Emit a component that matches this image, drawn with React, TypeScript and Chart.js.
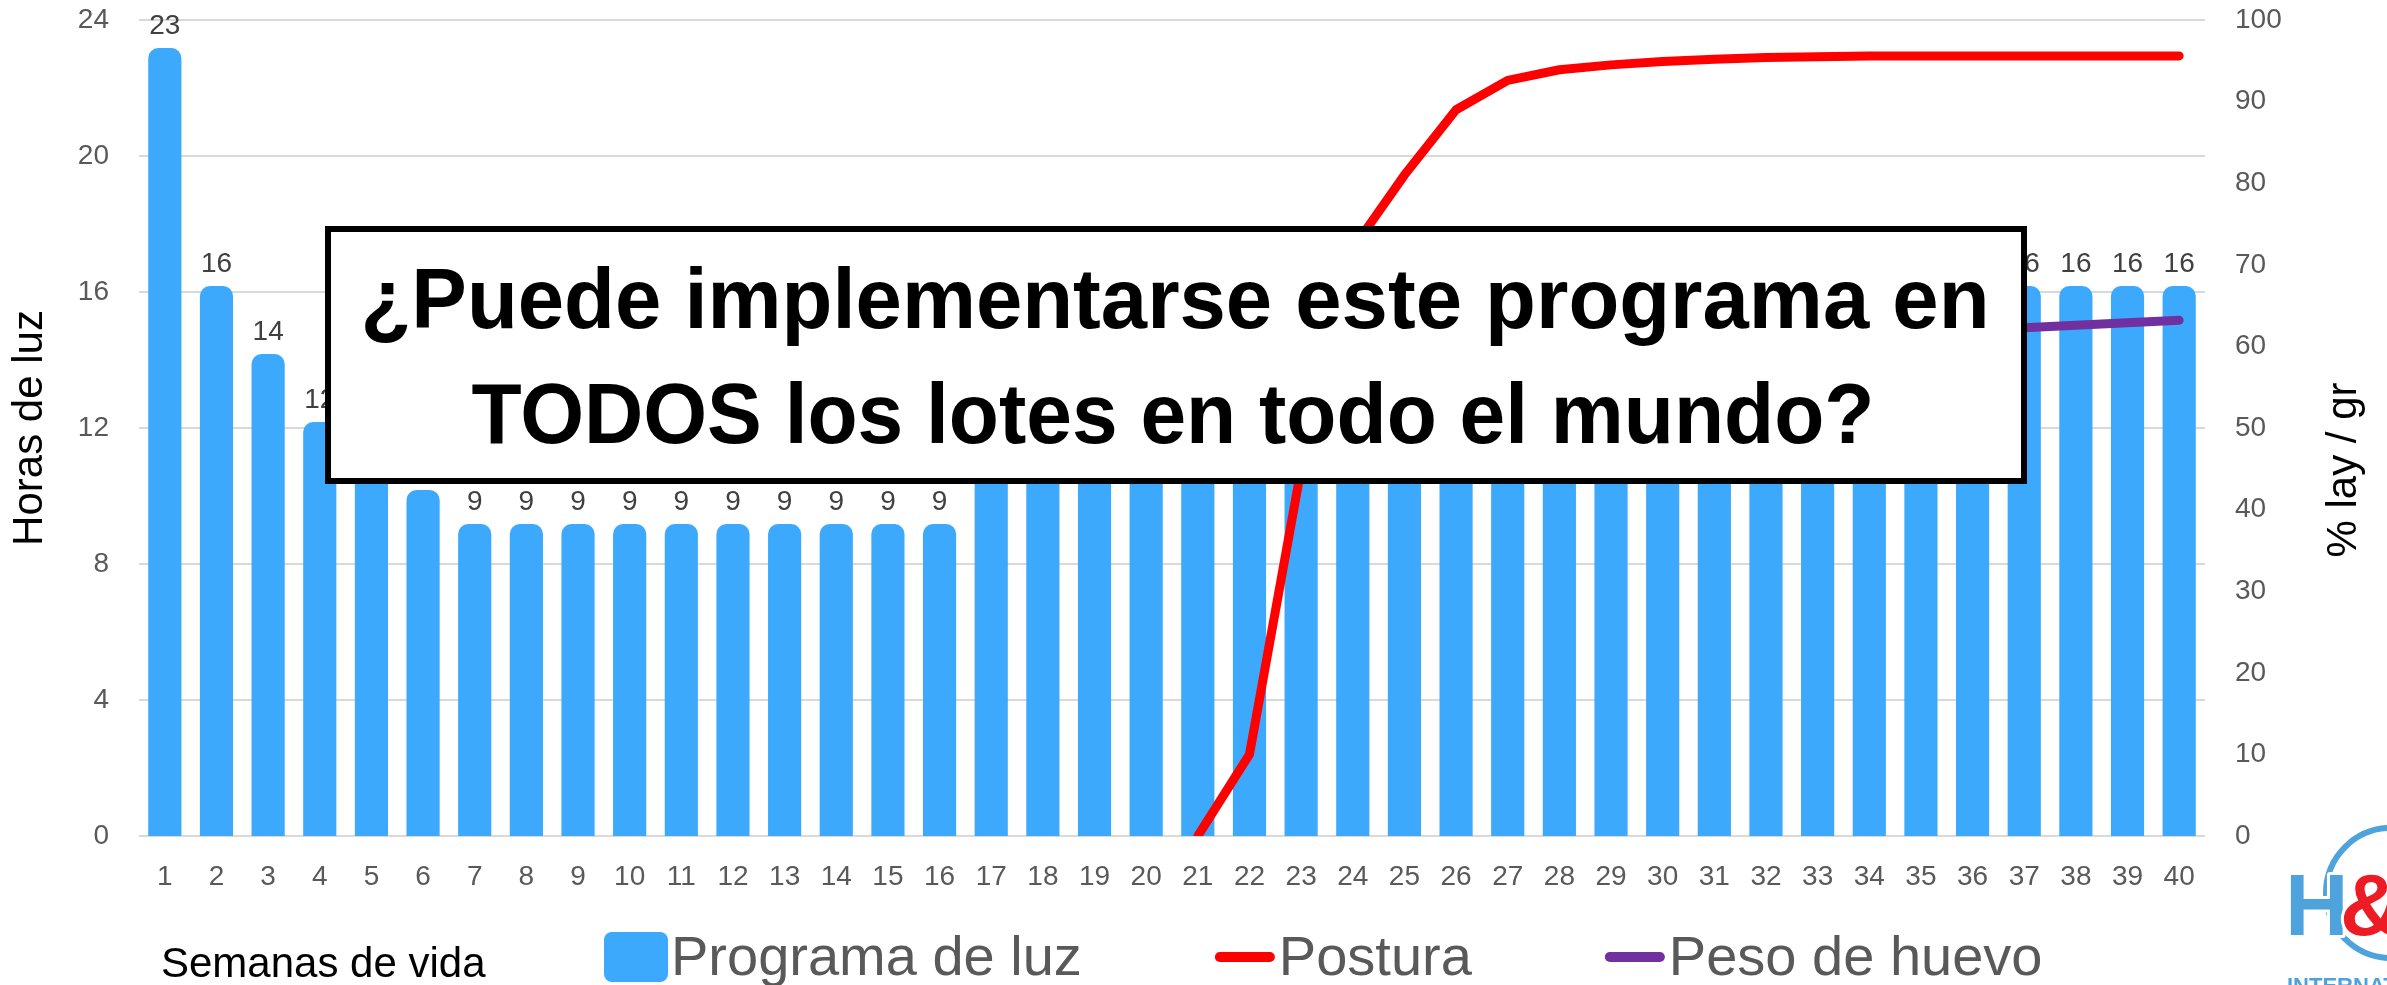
import React, { useEffect, useRef } from "react";
import { Chart, registerables } from "chart.js";

Chart.register(...registerables);

// ---------- data ----------
const semanas = [
  "1", "2", "3", "4", "5", "6", "7", "8", "9", "10",
  "11", "12", "13", "14", "15", "16", "17", "18", "19", "20",
  "21", "22", "23", "24", "25", "26", "27", "28", "29", "30",
  "31", "32", "33", "34", "35", "36", "37", "38", "39", "40",
];

const programaDeLuz = [
  23, 16, 14, 12, 11, 10, 9, 9, 9, 9,
  9, 9, 9, 9, 9, 9, 16, 16, 16, 16,
  16, 16, 16, 16, 16, 16, 16, 16, 16, 16,
  16, 16, 16, 16, 16, 16, 16, 16, 16, 16,
];

const postura = [
  null, null, null, null, null, null, null, null, null, null,
  null, null, null, null, null, null, null, null, null, null,
  0, 10, 45, 72, 81, 89, 92.6, 93.9, 94.5, 94.9,
  95.2, 95.4, 95.5, 95.6, 95.6, 95.6, 95.6, 95.6, 95.6, 95.6,
];

const pesoDeHuevo = [
  null, null, null, null, null, null, null, null, null, null,
  null, null, null, null, null, null, null, null, null, null,
  48.5, 50.5, 52.5, 54, 55.5, 56.7, 57.6, 58.4, 59, 59.6,
  60.1, 60.6, 61, 61.4, 61.7, 62, 62.3, 62.6, 62.9, 63.2,
];

const labelsSeries = ["Programa de luz", "Postura", "Peso de huevo"];
const xTitle = "Semanas de vida";
const yLeftTitle = "Horas de luz";
const yRightTitle = "% lay / gr";
const boxLines = [
  "¿Puede implementarse este programa en",
  "TODOS los lotes en todo el mundo?",
];

// ---------- styles ----------
const FONT = '"Liberation Sans", Arial, Helvetica, sans-serif';
const BLUE = "#3DA9FD";
const RED = "#FF0000";
const PURPLE = "#7030A0";
const GRAY = "#595959";

function fitText(
  ctx: CanvasRenderingContext2D,
  text: string,
  x: number,
  y: number,
  width: number,
  font: string,
  color: string,
  align: CanvasTextAlign
) {
  ctx.save();
  ctx.font = font;
  const w = ctx.measureText(text).width;
  const s = w > 0 ? width / w : 1;
  ctx.translate(x, y);
  ctx.scale(s, 1);
  ctx.textAlign = align;
  ctx.textBaseline = "alphabetic";
  ctx.fillStyle = color;
  ctx.fillText(text, 0, 0);
  ctx.restore();
}

const barValueLabels = {
  id: "barValueLabels",
  afterDatasetsDraw(chart: any) {
    const ctx = chart.ctx as CanvasRenderingContext2D;
    chart.data.datasets.forEach((ds: any, i: number) => {
      if (ds.type !== "bar") return;
      const meta = chart.getDatasetMeta(i);
      ctx.save();
      ctx.font = `28px ${FONT}`;
      ctx.fillStyle = "#404040";
      ctx.textAlign = "center";
      ctx.textBaseline = "alphabetic";
      meta.data.forEach((el: any, j: number) => {
        const v = ds.data[j];
        if (v == null) return;
        ctx.fillText(String(v), el.x, el.y - 20);
      });
      ctx.restore();
    });
  },
};

const overlay = {
  id: "overlay",
  afterDraw(chart: any) {
    const ctx = chart.ctx as CanvasRenderingContext2D;
    const ds = chart.data.datasets;

    // ---- x axis title (left of legend row) ----
    ctx.save();
    ctx.font = `42px ${FONT}`;
    ctx.fillStyle = "#000";
    ctx.textAlign = "left";
    ctx.textBaseline = "alphabetic";
    ctx.fillText(xTitle, 161, 977);
    ctx.restore();

    // ---- legend ----
    ctx.save();
    ctx.font = `56px ${FONT}`;
    ctx.textBaseline = "alphabetic";
    ctx.textAlign = "left";
    let x = 604;
    const cy = 957;
    ds.forEach((d: any) => {
      if (d.type === "bar") {
        ctx.fillStyle = d.backgroundColor;
        ctx.beginPath();
        (ctx as any).roundRect(x, cy - 25, 64, 50, 8);
        ctx.fill();
        x += 67;
      } else {
        ctx.strokeStyle = d.borderColor;
        ctx.lineWidth = 10;
        ctx.lineCap = "round";
        ctx.beginPath();
        ctx.moveTo(x + 5, cy);
        ctx.lineTo(x + 55, cy);
        ctx.stroke();
        x += 64;
      }
      ctx.fillStyle = GRAY;
      ctx.fillText(d.label, x, 975);
      x += ctx.measureText(d.label).width + 133;
    });
    ctx.restore();

    // ---- right axis title (reads bottom to top) ----
    ctx.save();
    ctx.translate(2344, 470);
    ctx.rotate(-Math.PI / 2);
    ctx.font = `42px ${FONT}`;
    ctx.fillStyle = "#000";
    ctx.textAlign = "center";
    ctx.textBaseline = "middle";
    ctx.fillText(yRightTitle, 0, 0);
    ctx.restore();

    // ---- logo (partially cut at right edge) ----
    ctx.save();
    ctx.strokeStyle = "#4FA3DD";
    ctx.lineWidth = 6;
    ctx.beginPath();
    ctx.arc(2391, 893, 65, 0, Math.PI * 2);
    ctx.stroke();
    ctx.font = `bold 88px ${FONT}`;
    ctx.textAlign = "left";
    ctx.textBaseline = "alphabetic";
    ctx.lineJoin = "round";
    ctx.lineWidth = 6;
    ctx.strokeStyle = "#fff";
    ctx.strokeText("H", 2285, 935);
    ctx.fillStyle = "#4FA3DD";
    ctx.fillText("H", 2285, 935);
    ctx.strokeText("&", 2340, 935);
    ctx.fillStyle = "#ED1C24";
    ctx.fillText("&", 2340, 935);
    ctx.font = `bold 22px ${FONT}`;
    ctx.fillStyle = "#4FA3DD";
    ctx.fillText("INTERNATIONAL", 2287, 993);
    ctx.restore();

    // ---- text box ----
    ctx.save();
    ctx.fillStyle = "#fff";
    ctx.fillRect(328, 229, 1696, 252);
    ctx.lineWidth = 6;
    ctx.strokeStyle = "#000";
    ctx.strokeRect(328, 229, 1696, 252);
    ctx.restore();
    fitText(ctx, boxLines[0], 1175, 328, 1629, `bold 85px ${FONT}`, "#000", "center");
    fitText(ctx, boxLines[1], 1173, 443, 1403, `bold 85px ${FONT}`, "#000", "center");
  },
};

function noVerticalPadding(scale: any) {
  scale.paddingTop = 0;
  scale.paddingBottom = 0;
}

export default function App() {
  const canvasRef = useRef<HTMLCanvasElement | null>(null);

  useEffect(() => {
    if (!canvasRef.current) return;
    const chart = new Chart(canvasRef.current, {
      type: "bar",
      data: {
        labels: semanas,
        datasets: [
          {
            type: "bar",
            label: labelsSeries[0],
            data: programaDeLuz,
            backgroundColor: BLUE,
            borderWidth: 0,
            borderRadius: 10,
            inflateAmount: 6,
            barPercentage: 0.41,
            categoryPercentage: 1,
            yAxisID: "y",
            order: 2,
          } as any,
          {
            type: "line",
            label: labelsSeries[1],
            data: postura,
            borderColor: RED,
            backgroundColor: RED,
            borderWidth: 9,
            pointRadius: 0,
            pointHoverRadius: 0,
            tension: 0,
            borderCapStyle: "round",
            borderJoinStyle: "round",
            yAxisID: "y1",
            order: 0,
          } as any,
          {
            type: "line",
            label: labelsSeries[2],
            data: pesoDeHuevo,
            borderColor: PURPLE,
            backgroundColor: PURPLE,
            borderWidth: 9,
            pointRadius: 0,
            pointHoverRadius: 0,
            tension: 0,
            borderCapStyle: "round",
            borderJoinStyle: "round",
            yAxisID: "y1",
            order: 1,
          } as any,
        ],
      },
      options: {
        responsive: true,
        maintainAspectRatio: false,
        animation: false,
        events: [],
        layout: { padding: { top: 20, left: 0, right: 0, bottom: 0 } },
        plugins: {
          legend: { display: false },
          tooltip: { enabled: false },
          title: { display: false },
        },
        scales: {
          x: {
            grid: { display: false, drawTicks: false },
            border: { display: false },
            ticks: {
              color: GRAY,
              font: { family: FONT, size: 28 },
              padding: 24,
              maxRotation: 0,
              autoSkip: false,
            },
            afterFit(scale: any) {
              scale.height = 149;
              scale.paddingLeft = 0;
              scale.paddingRight = 0;
            },
          },
          y: {
            position: "left",
            min: 0,
            max: 24,
            ticks: {
              stepSize: 4,
              color: GRAY,
              font: { family: FONT, size: 28 },
              padding: 30,
            },
            grid: { color: "#D9D9D9", lineWidth: 2, drawTicks: false },
            border: { display: false },
            title: {
              display: true,
              text: yLeftTitle,
              color: "#000",
              font: { family: FONT, size: 42 },
              padding: { top: 5, bottom: 0 },
            },
            afterFit(scale: any) {
              scale.width = 139;
              noVerticalPadding(scale);
            },
          },
          y1: {
            position: "right",
            min: 0,
            max: 100,
            ticks: {
              stepSize: 10,
              color: GRAY,
              font: { family: FONT, size: 28 },
              padding: 30,
            },
            grid: { display: false, drawTicks: false },
            border: { display: false },
            afterFit(scale: any) {
              scale.width = 182;
              noVerticalPadding(scale);
            },
          },
        },
      } as any,
      plugins: [barValueLabels, overlay],
    });
    return () => chart.destroy();
  }, []);

  return (
    <div
      style={{
        position: "fixed",
        left: 0,
        top: 0,
        width: "2387px",
        height: "985px",
        background: "#fff",
      }}
    >
      <canvas ref={canvasRef} />
    </div>
  );
}
